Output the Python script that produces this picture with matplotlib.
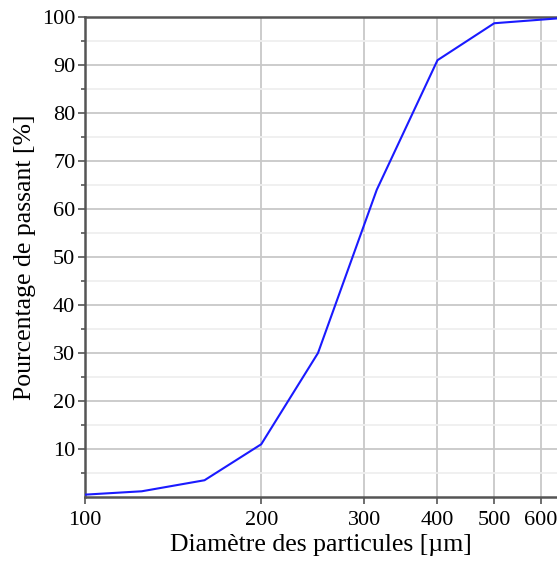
import matplotlib
matplotlib.use("Agg")
import matplotlib.pyplot as plt
from matplotlib.ticker import FixedLocator, NullFormatter

# granulometry curve
diametres = [100, 125, 160, 200, 250, 315, 400, 500, 640]
passant = [0.5, 1.2, 3.5, 11, 30, 64, 91, 98.7, 99.7]

x_ticks = [100, 200, 300, 400, 500, 600]
x_tick_labels = ["100", "200", "300", "400", "500", "600"]
y_ticks = [10, 20, 30, 40, 50, 60, 70, 80, 90, 100]
y_minor = [5, 15, 25, 35, 45, 55, 65, 75, 85, 95]

plt.rcParams['font.family'] = ['Liberation Serif', 'DejaVu Serif']

fig = plt.figure(figsize=(5.57, 5.61), dpi=100)
ax = fig.add_axes([0.1526, 0.114, 1 - 0.1526, 0.9697 - 0.114])

ax.plot(diametres, passant, color="#1a1aff", lw=1.5, zorder=3)

ax.set_xscale("log")
ax.set_xlim(100, 640)
ax.set_ylim(0, 100)

ax.xaxis.set_major_locator(FixedLocator(x_ticks))
ax.set_xticklabels(x_tick_labels)
ax.xaxis.set_minor_locator(FixedLocator([]))
ax.xaxis.set_minor_formatter(NullFormatter())
ax.yaxis.set_major_locator(FixedLocator(y_ticks))
ax.yaxis.set_minor_locator(FixedLocator(y_minor))

ax.grid(True, which="major", color="#c8c8c8", lw=1.3)
ax.grid(True, which="minor", axis="y", color="#efefef", lw=1.3)
ax.set_axisbelow(True)

for s in ["left", "bottom", "top"]:
    ax.spines[s].set_color("#555555")
    ax.spines[s].set_linewidth(1.8)
ax.spines["right"].set_visible(False)

ax.tick_params(axis="both", which="major", labelsize=16, length=5,
               width=1.2, color="#555555", pad=2)
ax.tick_params(axis="y", which="minor", length=3, width=1.2, color="#555555")
ax.tick_params(axis="x", pad=5)

ax.set_xlabel("Diamètre des particules [µm]", fontsize=18.5, labelpad=3)
ax.set_ylabel("Pourcentage de passant [%]", fontsize=18.5, labelpad=4)

fig.savefig("out.png", dpi=100)
